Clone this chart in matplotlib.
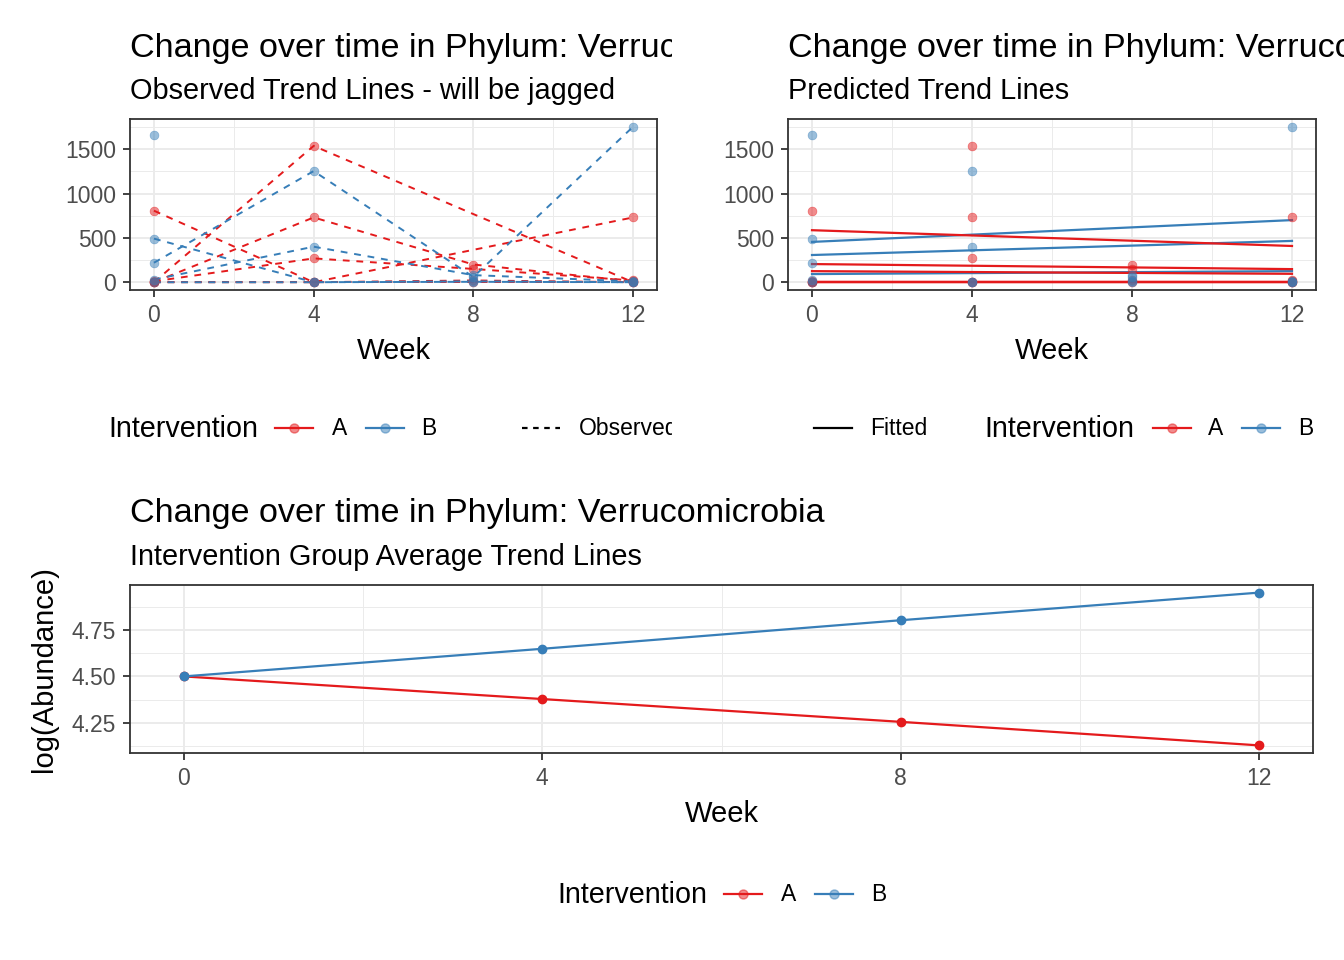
import numpy as np
import matplotlib
matplotlib.use('Agg')
import matplotlib.pyplot as plt
from matplotlib.lines import Line2D
from matplotlib.transforms import Bbox

plt.rcParams['font.family'] = ['Liberation Sans', 'DejaVu Sans']

# data
weeks = [0, 4, 8, 12]
red = '#E41A1C'
blue = '#377EB8'

# observed abundance per subject (nan = missing visit)
obs_A = [
    [0, 1538, np.nan, 0],
    [807, 0, np.nan, 731],
    [0, 731, 200, 10],
    [10, 269, 150, 20],
    [0, 0, 20, 0],
    [0, 0, 0, 0],
]
obs_B = [
    [1659, np.nan, np.nan, np.nan],
    [220, 1254, 60, 1754],
    [492, 0, 5, 0],
    [30, 401, 80, 10],
    [0, 0, 10, 0],
]

# fitted values at week 0 and week 12 per subject
fit_A_start = [587, 205, 125, 0, 0, 0]
fit_A_end = [409, 148, 95, 0, 0, 0]
fit_B_start = [455, 307, 92]
fit_B_end = [701, 466, 125]

# group average trend, log(Abundance)
avg_A = [4.50, 4.378, 4.255, 4.128]
avg_B = [4.50, 4.649, 4.803, 4.952]

W, H = 1344, 960
fig = plt.figure(figsize=(W / 100, H / 100), dpi=100)

def px_axes(x0, y0, x1, y1):
    return fig.add_axes([x0 / W, 1 - y1 / H, (x1 - x0) / W, (y1 - y0) / H])

def style_axes(ax, yticks, xminor, yminor):
    ax.set_facecolor('white')
    ax.set_xticks(weeks)
    ax.set_yticks(yticks)
    ax.set_xticks(xminor, minor=True)
    ax.set_yticks(yminor, minor=True)
    ax.grid(which='major', color='#EBEBEB', lw=1.4, zorder=0)
    ax.grid(which='minor', color='#EBEBEB', lw=0.7, zorder=0)
    ax.tick_params(which='minor', length=0)
    ax.tick_params(which='major', length=5, width=1.3, color='#333333',
                   labelsize=16.5, labelcolor='#4D4D4D', pad=5)
    for s in ax.spines.values():
        s.set_color('#333333')
        s.set_linewidth(1.3)
    ax.set_axisbelow(True)
    ax.set_xlim(-0.6, 12.6)
    ax.set_xlabel('Week', fontsize=21, labelpad=7)

def clipped_text(x, y, s, size, clip_x):
    t = fig.text(x / W, 1 - y / H, s, fontsize=size, ha='left', va='baseline')
    t.set_clip_on(True)
    t.set_clip_box(Bbox.from_extents(0, 0, clip_x, H))
    return t

def key(x, y, color, ls='-', marker=True, alpha=0.5):
    fig.add_artist(Line2D([x / W, (x + 38) / W], [1 - y / H, 1 - y / H],
                          color=color, lw=1.6, ls=ls))
    if marker:
        fig.add_artist(Line2D([(x + 19) / W], [1 - y / H], marker='o', ms=6.5,
                              color=color, alpha=alpha, mec=color))

ymax = 1754 * 1.05
ymin = -1754 * 0.05

# top left: observed
ax1 = px_axes(130, 119, 657, 290)
for rows, c in [(obs_A, red), (obs_B, blue)]:
    for r in rows:
        r = np.array(r, dtype=float)
        m = ~np.isnan(r)
        ax1.plot(np.array(weeks)[m], r[m], color=c, lw=1.4, ls=(0, (3.5, 3.5)), zorder=2)
        ax1.scatter(np.array(weeks)[m], r[m], s=40, color=c, alpha=0.5, lw=0.5, zorder=3)
style_axes(ax1, [0, 500, 1000, 1500], [2, 6, 10], [250, 750, 1250, 1750])
ax1.set_ylim(ymin, ymax)

# top right: fitted
ax2 = px_axes(788, 119, 1316, 290)
for rows, c in [(obs_A, red), (obs_B, blue)]:
    for r in rows:
        r = np.array(r, dtype=float)
        m = ~np.isnan(r)
        ax2.scatter(np.array(weeks)[m], r[m], s=40, color=c, alpha=0.5, lw=0.5, zorder=3)
for st, en, c in [(fit_B_start, fit_B_end, blue), (fit_A_start, fit_A_end, red)]:
    for a, b in zip(st, en):
        ax2.plot([weeks[0], weeks[-1]], [a, b], color=c, lw=1.6, zorder=2)
style_axes(ax2, [0, 500, 1000, 1500], [2, 6, 10], [250, 750, 1250, 1750])
ax2.set_ylim(ymin, ymax)

# bottom: group average
ax3 = px_axes(130, 585, 1313, 753)
ax3.plot(weeks, avg_A, color=red, lw=1.6, marker='o', ms=6, zorder=3)
ax3.plot(weeks, avg_B, color=blue, lw=1.6, marker='o', ms=6, zorder=3)
style_axes(ax3, [4.25, 4.50, 4.75], [2, 6, 10], [4.125, 4.375, 4.625, 4.875])
ax3.set_yticklabels(['4.25', '4.50', '4.75'])
ax3.set_ylim(4.087, 4.993)
ax3.set_ylabel('log(Abundance)', fontsize=21, labelpad=10)

# titles
clipped_text(130, 57, 'Change over time in Phylum: Verrucomicrobia', 24.6, 672)
clipped_text(130, 99, 'Observed Trend Lines - will be jagged', 20.8, 672)
clipped_text(788, 57, 'Change over time in Phylum: Verrucomicrobia', 24.6, W)
clipped_text(788, 99, 'Predicted Trend Lines', 20.8, W)
clipped_text(130, 522, 'Change over time in Phylum: Verrucomicrobia', 24.6, W)
clipped_text(130, 565, 'Intervention Group Average Trend Lines', 20.8, W)

# legends
ly = 428
clipped_text(108, ly + 9, 'Intervention', 20.7, W)
key(275, ly, red)
clipped_text(332, ly + 7, 'A', 16.5, W)
key(366, ly, blue)
clipped_text(421, ly + 7, 'B', 16.5, W)
key(522, ly, 'black', ls=(0, (2.5, 2.5)), marker=False)
clipped_text(579, ly + 7, 'Observed', 16.5, 672)

key(814, ly, 'black', marker=False)
clipped_text(870, ly + 7, 'Fitted', 16.5, W)
clipped_text(984, ly + 9, 'Intervention', 20.7, W)
key(1153, ly, red)
clipped_text(1208, ly + 7, 'A', 16.5, W)
key(1242, ly, blue)
clipped_text(1298, ly + 7, 'B', 16.5, W)

by = 894
clipped_text(557, by + 9, 'Intervention', 20.7, W)
key(724, by, red)
clipped_text(781, by + 7, 'A', 16.5, W)
key(815, by, blue)
clipped_text(871, by + 7, 'B', 16.5, W)

fig.savefig('out.png', dpi=100, facecolor='white')
